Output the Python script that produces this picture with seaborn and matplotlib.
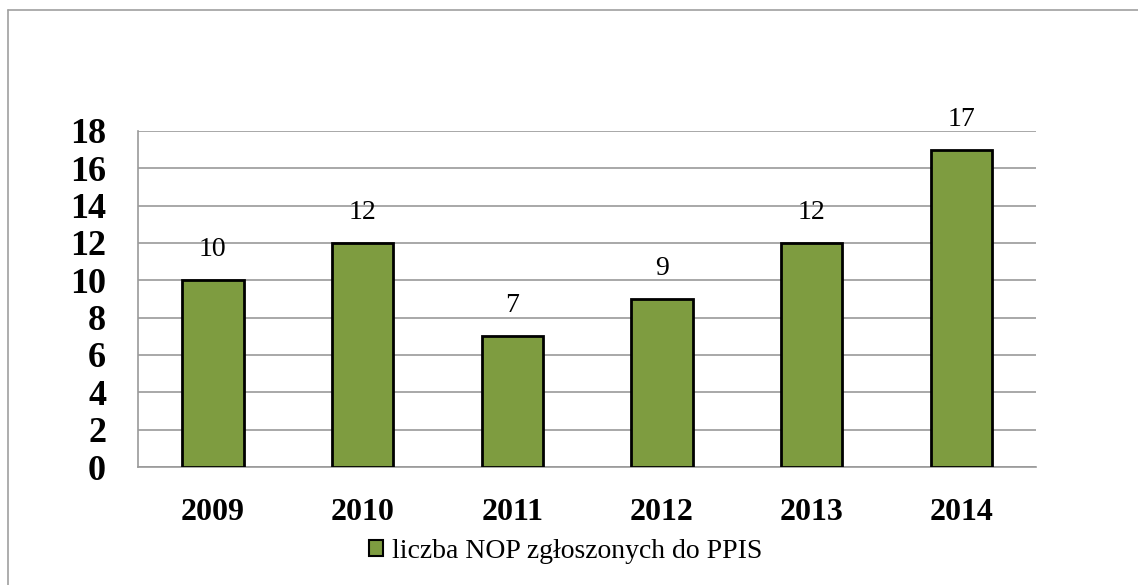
import pandas as pd
import matplotlib.pyplot as plt
import seaborn as sns
from matplotlib.patches import Patch
from matplotlib.lines import Line2D

# dane
years = ['2009', '2010', '2011', '2012', '2013', '2014']
counts = [10, 12, 7, 9, 12, 17]
series_name = 'liczba NOP zgłoszonych do PPIS'
y_ticks = [0, 2, 4, 6, 8, 10, 12, 14, 16, 18]

df = pd.DataFrame({'Rok': years, 'Liczba': counts})

sns.set_style('white')
plt.rcParams['font.family'] = ['Liberation Serif', 'DejaVu Serif']
plt.rcParams['text.color'] = 'black'
plt.rcParams['xtick.labelcolor'] = 'black'
plt.rcParams['ytick.labelcolor'] = 'black'

bar_color = '#7E9C40'
grid_color = '#9A9A9A'

fig = plt.figure(figsize=(11.38, 5.85), dpi=100)
ax = fig.add_axes([0.1213, 0.2017, 0.7891, 0.5744])

sns.barplot(data=df, x='Rok', y='Liczba', color=bar_color, width=0.41,
            edgecolor='black', linewidth=2, saturation=1, ax=ax, zorder=3)

# ramka wykresu (lewa i gorna krawedz)
fig.add_artist(Line2D([8 / 1138, 8 / 1138], [1 - 10 / 585, 0], transform=fig.transFigure,
                      color='#A0A0A0', linewidth=1.2))
fig.add_artist(Line2D([8 / 1138, 1], [1 - 10 / 585, 1 - 10 / 585], transform=fig.transFigure,
                      color='#A0A0A0', linewidth=1.2))

ax.set_ylim(0, 18)
ax.set_xlim(-0.5, len(years) - 0.5)
ax.set_yticks(y_ticks)
ax.yaxis.grid(True, color=grid_color, linewidth=1.2, zorder=0)
ax.set_axisbelow(True)

# osie
for s in ['top', 'right']:
    ax.spines[s].set_visible(False)
for s in ['left', 'bottom']:
    ax.spines[s].set_color(grid_color)
    ax.spines[s].set_linewidth(1.2)

ax.tick_params(axis='y', direction='out', length=7, width=1.2, color=grid_color,
               labelsize=26, pad=16)
ax.tick_params(axis='x', which='major', length=0, labelsize=23, pad=22)
ax.set_xticks([i - 0.5 for i in range(len(years) + 1)], minor=True)
ax.tick_params(axis='x', which='minor', direction='out', length=7, width=1.2, color=grid_color)
for lab in ax.get_yticklabels() + ax.get_xticklabels():
    lab.set_fontweight('bold')
    lab.set_color('black')

ax.set_xlabel('')
ax.set_ylabel('')

# etykiety wartosci
for container in ax.containers:
    ax.bar_label(container, fmt='%d', fontsize=20, padding=13, color='black')

# legenda
handles = [Patch(facecolor=bar_color, edgecolor='black', linewidth=1.5, label=series_name)]
fig.legend(handles=handles, loc='center', bbox_to_anchor=(0.497, 1 - 551 / 585),
           frameon=False, fontsize=20, handlelength=0.5, handleheight=0.5,
           handletextpad=0.3, labelcolor='black')

plt.savefig('out.png', dpi=100, facecolor='white')
